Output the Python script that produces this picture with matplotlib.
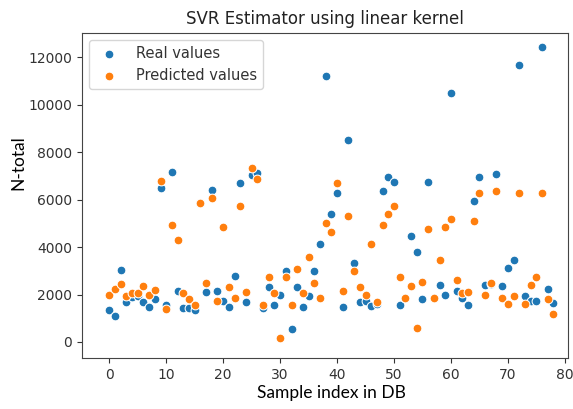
import numpy as np
import matplotlib
matplotlib.use("Agg")
import matplotlib.pyplot as plt

# ===============================
# Datos
# ===============================
sample_idx = np.arange(79)

real_values = [
    1350, 1100, 3050, 1700, 1900, 1950, 1680, 1490, 1800, 6500,
    1560, 7150, 2160, 1420, 1450, 1340, 5880, 2100, 6400, 2160,
    1740, 1490, 2800, 6710, 1670, 7020, 7110, 1420, 2310, 1560,
    1990, 3010, 530, 2330, 1490, 1940, 3000, 4120, 11220, 5380,
    6270, 1490, 8510, 3310, 1670, 1740, 1530, 1620, 6370, 6970,
    6760, 1540, 1850, 4480, 3800, 1800, 6760, 1840, 2420, 1980,
    10480, 2170, 1850, 1550, 5940, 6940, 2420, 2450, 7080, 2360,
    3130, 3450, 11680, 1940, 1740, 1740, 12420, 2230, 1660,
]

predicted_values = [
    1980, 2230, 2440, 1950, 2050, 2050, 2370, 1980, 2190, 6790,
    1380, 4930, 4300, 2050, 1800, 1560, 5880, 2500, 6060, 1730,
    4860, 2330, 1840, 5750, 2090, 7350, 6880, 1560, 2750, 2050,
    150, 2750, 1560, 3060, 2050, 3570, 2500, 1840, 5000, 4620,
    6710, 2160, 5310, 2990, 2300, 1980, 4120, 1670, 4930, 5380,
    5750, 2750, 1870, 2370, 600, 2540, 4760, 1870, 3460, 4860,
    5180, 2620, 2070, 2090, 5110, 6270, 1980, 2470, 6380, 1870,
    1600, 1940, 6270, 1600, 2400, 2750, 6270, 1800, 1170,
]

x_ticks = [0, 10, 20, 30, 40, 50, 60, 70, 80]
y_ticks = [0, 2000, 4000, 6000, 8000, 10000, 12000]

# ===============================
# Figura
# ===============================
fig = plt.figure(figsize=(5.73, 4.09), dpi=100)
ax = fig.add_axes([0.1426, 0.124, 0.849, 0.796])

ax.scatter(sample_idx, real_values, s=40, color="#1f77b4",
           edgecolor="white", linewidth=0.75, label="Real values", zorder=2)
ax.scatter(sample_idx, predicted_values, s=40, color="#ff7f0e",
           edgecolor="white", linewidth=0.75, label="Predicted values", zorder=3)

ax.set_xlim(-4.85, 80.6)
ax.set_ylim(-687, 13037)
ax.set_xticks(x_ticks)
ax.set_yticks(y_ticks)
ax.tick_params(labelsize=10, colors="#333333", labelcolor="#333333")
for sp in ax.spines.values():
    sp.set_color("#444444")

ax.set_title("SVR Estimator using linear kernel", fontsize=12, color="#222222")

ax.set_xlabel("Sample index in DB", family="Lato", fontsize=12.5)
ax.xaxis.set_label_coords(0.513, -0.082)
ax.set_ylabel("N-total", family="Lato", fontsize=12.5)
ax.yaxis.set_label_coords(-0.1145, 0.60)

leg = ax.legend(loc="upper left", fontsize=10.5, handletextpad=0.8)
for t in leg.get_texts():
    t.set_color("#333333")

fig.savefig("out.png", dpi=100)
